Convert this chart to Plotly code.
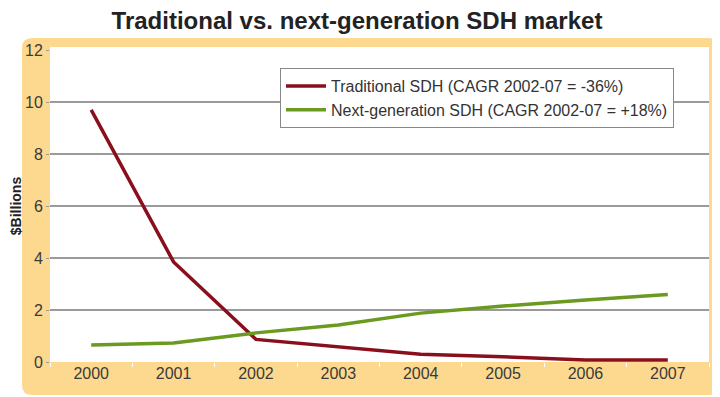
import plotly.graph_objects as go

years = ["2000", "2001", "2002", "2003", "2004", "2005", "2006", "2007"]
traditional = [9.7, 3.85, 0.87, 0.58, 0.3, 0.2, 0.08, 0.08]
next_gen = [0.65, 0.73, 1.12, 1.42, 1.88, 2.15, 2.38, 2.6]
y_ticks = [0, 2, 4, 6, 8, 10, 12]

FONT = "Arial, Liberation Sans, sans-serif"
OFF = 8  # page body margin
W, H = 720 - OFF, 397 - OFF
L, R, T, B = 50 - OFF, 11, 50 - OFF, 35
pw, ph = W - L - R, H - T - B

def px_x(x):
    return (x - OFF - L) / pw

def px_y(y):
    return (H - B - (y - OFF)) / ph

fig = go.Figure()
fig.add_trace(go.Scatter(x=years, y=traditional, mode="lines",
                         name="Traditional SDH (CAGR 2002-07 = -36%)",
                         line=dict(color="#8a0f1c", width=3.5)))
fig.add_trace(go.Scatter(x=years, y=next_gen, mode="lines",
                         name="Next-generation SDH (CAGR 2002-07 = +18%)",
                         line=dict(color="#6a9a1f", width=3.5)))

# rounded orange panel
x0, x1 = px_x(22), px_x(718)
y0, y1 = px_y(395), px_y(38)
rx, ry = 10 / pw, 10 / ph
path = (f"M {x0+rx},{y0} L {x1-rx},{y0} Q {x1},{y0} {x1},{y0+ry} "
        f"L {x1},{y1-ry} Q {x1},{y1} {x1-rx},{y1} L {x0+rx},{y1} "
        f"Q {x0},{y1} {x0},{y1-ry} L {x0},{y0+ry} Q {x0},{y0} {x0+rx},{y0} Z")
fig.add_shape(type="path", path=path, xref="paper", yref="paper",
              fillcolor="#fdd98f", line=dict(width=0), layer="below")
fig.add_shape(type="rect", xref="paper", yref="paper", x0=0, x1=1,
              y0=0, y1=px_y(47), fillcolor="white", line=dict(width=0), layer="below")

fig.update_layout(
    width=W, height=H,
    margin=dict(l=L, r=R, t=T, b=B, autoexpand=False),
    paper_bgcolor="white", plot_bgcolor="rgba(0,0,0,0)",
    font=dict(family=FONT, color="#333333", size=16),
    title=dict(text="Traditional vs. next-generation SDH market",
               x=(357 - OFF) / W, xref="container", xanchor="center",
               y=1 - 13 / H, yanchor="middle",
               font=dict(family=FONT, size=24, color="#222222", weight="bold")),
    showlegend=True,
    legend=dict(x=px_x(280), y=px_y(68), xanchor="left", yanchor="top",
                bgcolor="white", bordercolor="#888888", borderwidth=1, itemwidth=40,
                font=dict(size=16, color="#333333"), tracegroupgap=2),
    xaxis=dict(type="category", range=[-0.5, 7.5], showgrid=False, automargin=False,
               ticks="outside", tickson="boundaries", ticklen=4, tickcolor="#ffffff",
               showline=False, zeroline=False, tickfont=dict(size=16, color="#3a3a3a")),
    yaxis=dict(range=[0, 12], tickvals=y_ticks, showgrid=True, gridcolor="#9a9a9a",
               gridwidth=1.5, zeroline=False, showline=False, ticks="outside", automargin=False,
               ticklen=3, tickcolor="#9a9a9a", tickfont=dict(size=16, color="#3a3a3a"),
               title=dict(text="$Billions", font=dict(size=14, color="#222222", weight="bold"),
                          standoff=9)),
)

fig.write_html("out.html")
